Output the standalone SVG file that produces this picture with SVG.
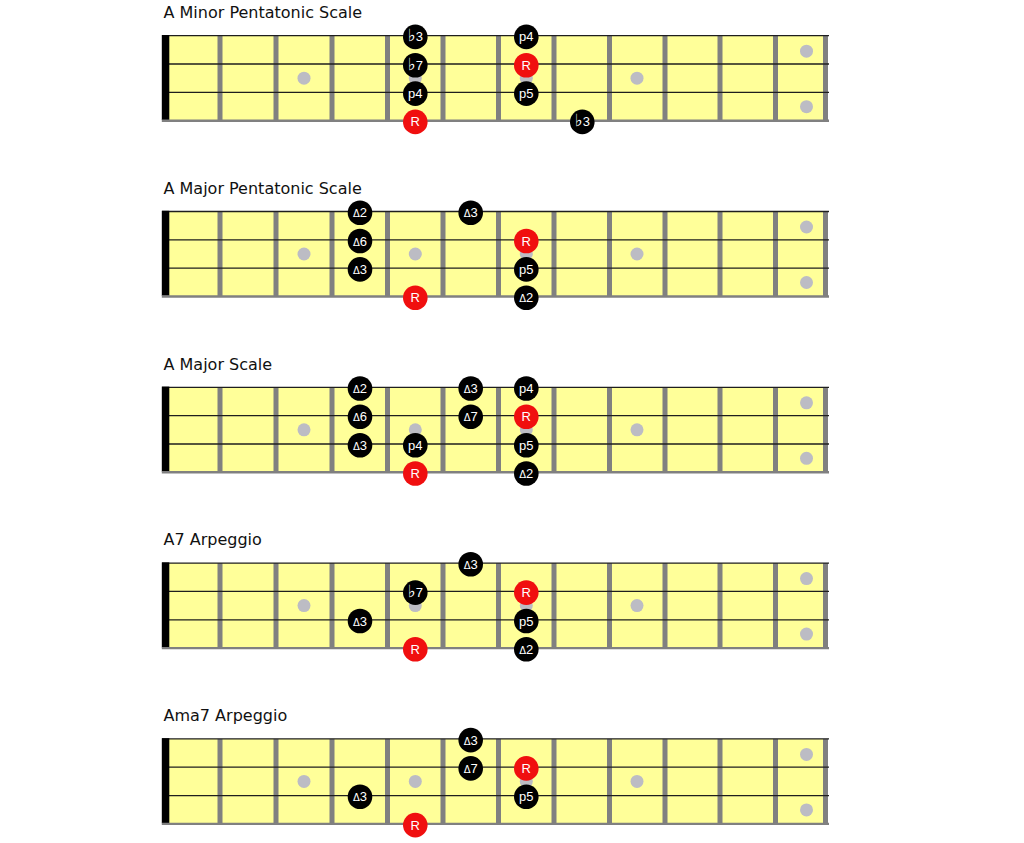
<svg xmlns="http://www.w3.org/2000/svg" xmlns:xlink="http://www.w3.org/1999/xlink" width="1024" height="843" viewBox="0 0 1024 843">
<style>
.title{font-family:"DejaVu Sans",Verdana,sans-serif;font-size:16px;fill:#111}
.fret{fill:#808080}
.str{stroke:#1e1e1e;stroke-width:1.3}
.low{stroke:#808080;stroke-width:2.4}
.dot{fill:#bcbcc4}
.n{fill:#000}
.r{fill:#f00f0f}
.t{font-family:"Liberation Sans",Arial,"DejaVu Sans",sans-serif;font-size:13px;fill:#fff;text-anchor:middle}
.d{font-size:10px;font-family:"DejaVu Sans",sans-serif}
.f{font-family:"DejaVu Sans",sans-serif;font-size:17px}
</style>
<defs>
<g id="board">
<rect x="169" y="0" width="659" height="85" fill="#ffff99"/>
<rect class="fret" x="217.5" y="0" width="5" height="85"/>
<rect class="fret" x="273.5" y="0" width="5" height="85"/>
<rect class="fret" x="329.5" y="0" width="5" height="85"/>
<rect class="fret" x="385" y="0" width="5" height="85"/>
<rect class="fret" x="440.5" y="0" width="5" height="85"/>
<rect class="fret" x="496" y="0" width="5" height="85"/>
<rect class="fret" x="551.5" y="0" width="5" height="85"/>
<rect class="fret" x="607" y="0" width="5" height="85"/>
<rect class="fret" x="662.5" y="0" width="5" height="85"/>
<rect class="fret" x="717.5" y="0" width="5" height="85"/>
<rect class="fret" x="773" y="0" width="5" height="85"/>
<rect class="fret" x="823" y="0" width="5" height="85"/>
<circle class="dot" cx="304" cy="42.5" r="6.5"/>
<circle class="dot" cx="415.3" cy="42.5" r="6.5"/>
<circle class="dot" cx="526.3" cy="42.5" r="6.5"/>
<circle class="dot" cx="637" cy="42.5" r="6.5"/>
<circle class="dot" cx="806.5" cy="15.5" r="6.5"/>
<circle class="dot" cx="806.5" cy="71" r="6.5"/>
<line class="str" x1="162" y1="0" x2="829" y2="0"/>
<line class="str" x1="162" y1="28.3" x2="829" y2="28.3"/>
<line class="str" x1="162" y1="56.7" x2="829" y2="56.7"/>
<rect x="161.8" y="-0.7" width="7.5" height="85" fill="#000"/>
<line class="low" x1="161.8" y1="85" x2="829" y2="85"/>
</g>
</defs>

<g id="boards">
<use xlink:href="#board" href="#board" transform="translate(0,35.7)"/>
<use xlink:href="#board" href="#board" transform="translate(0,211.5)"/>
<use xlink:href="#board" href="#board" transform="translate(0,387.3)"/>
<use xlink:href="#board" href="#board" transform="translate(0,563.1)"/>
<use xlink:href="#board" href="#board" transform="translate(0,738.9)"/>
</g>

<g id="titles">
<text class="title" x="163.5" y="18.3">A Minor Pentatonic Scale</text>
<text class="title" x="163.5" y="194">A Major Pentatonic Scale</text>
<text class="title" x="163.5" y="369.8">A Major Scale</text>
<text class="title" x="163.5" y="545">A7 Arpeggio</text>
<text class="title" x="163.5" y="721.2">Ama7 Arpeggio</text>
</g>

<g id="connectors"/>

<g id="minor-pentatonic">
<g id="m1-b3"><circle class="n" cx="415.3" cy="36.9" r="12.3"/><text class="t" x="415.3" y="41.4"><tspan class="f">♭</tspan>3</text></g>
<g id="m1-b7"><circle class="n" cx="415.3" cy="65.2" r="12.3"/><text class="t" x="415.3" y="69.7"><tspan class="f">♭</tspan>7</text></g>
<g id="m1-p4"><circle class="n" cx="415.3" cy="93.6" r="12.3"/><text class="t" x="415.3" y="98.1">p4</text></g>
<g id="m1-R"><circle class="r" cx="415.3" cy="121.9" r="12.3"/><text class="t" x="415.3" y="126.4">R</text></g>
<g id="m1-p4b"><circle class="n" cx="526.3" cy="36.9" r="12.3"/><text class="t" x="526.3" y="41.4">p4</text></g>
<g id="m1-R2"><circle class="r" cx="526.3" cy="65.2" r="12.3"/><text class="t" x="526.3" y="69.7">R</text></g>
<g id="m1-p5"><circle class="n" cx="526.3" cy="93.6" r="12.3"/><text class="t" x="526.3" y="98.1">p5</text></g>
<g id="m1-b3b"><circle class="n" cx="582.3" cy="121.9" r="12.3"/><text class="t" x="582.3" y="126.4"><tspan class="f">♭</tspan>3</text></g>
</g>

<g id="major-pentatonic">
<g id="m2-d2"><circle class="n" cx="360" cy="212.7" r="12.3"/><text class="t" x="360" y="217.2"><tspan class="d">Δ</tspan>2</text></g>
<g id="m2-d6"><circle class="n" cx="360" cy="241" r="12.3"/><text class="t" x="360" y="245.5"><tspan class="d">Δ</tspan>6</text></g>
<g id="m2-d3"><circle class="n" cx="360" cy="269.4" r="12.3"/><text class="t" x="360" y="273.9"><tspan class="d">Δ</tspan>3</text></g>
<g id="m2-R"><circle class="r" cx="415.3" cy="297.7" r="12.3"/><text class="t" x="415.3" y="302.2">R</text></g>
<g id="m2-d3b"><circle class="n" cx="470.7" cy="212.7" r="12.3"/><text class="t" x="470.7" y="217.2"><tspan class="d">Δ</tspan>3</text></g>
<g id="m2-R2"><circle class="r" cx="526.3" cy="241" r="12.3"/><text class="t" x="526.3" y="245.5">R</text></g>
<g id="m2-p5"><circle class="n" cx="526.3" cy="269.4" r="12.3"/><text class="t" x="526.3" y="273.9">p5</text></g>
<g id="m2-d2b"><circle class="n" cx="526.3" cy="297.7" r="12.3"/><text class="t" x="526.3" y="302.2"><tspan class="d">Δ</tspan>2</text></g>
</g>

<g id="major-scale">
<g id="m3-d2"><circle class="n" cx="360" cy="388.5" r="12.3"/><text class="t" x="360" y="393"><tspan class="d">Δ</tspan>2</text></g>
<g id="m3-d6"><circle class="n" cx="360" cy="416.8" r="12.3"/><text class="t" x="360" y="421.3"><tspan class="d">Δ</tspan>6</text></g>
<g id="m3-d3"><circle class="n" cx="360" cy="445.2" r="12.3"/><text class="t" x="360" y="449.7"><tspan class="d">Δ</tspan>3</text></g>
<g id="m3-p4"><circle class="n" cx="415.3" cy="445.2" r="12.3"/><text class="t" x="415.3" y="449.7">p4</text></g>
<g id="m3-R"><circle class="r" cx="415.3" cy="473.5" r="12.3"/><text class="t" x="415.3" y="478">R</text></g>
<g id="m3-d3b"><circle class="n" cx="470.7" cy="388.5" r="12.3"/><text class="t" x="470.7" y="393"><tspan class="d">Δ</tspan>3</text></g>
<g id="m3-d7"><circle class="n" cx="470.7" cy="416.8" r="12.3"/><text class="t" x="470.7" y="421.3"><tspan class="d">Δ</tspan>7</text></g>
<g id="m3-p4b"><circle class="n" cx="526.3" cy="388.5" r="12.3"/><text class="t" x="526.3" y="393">p4</text></g>
<g id="m3-R2"><circle class="r" cx="526.3" cy="416.8" r="12.3"/><text class="t" x="526.3" y="421.3">R</text></g>
<g id="m3-p5"><circle class="n" cx="526.3" cy="445.2" r="12.3"/><text class="t" x="526.3" y="449.7">p5</text></g>
<g id="m3-d2b"><circle class="n" cx="526.3" cy="473.5" r="12.3"/><text class="t" x="526.3" y="478"><tspan class="d">Δ</tspan>2</text></g>
</g>

<g id="a7-arpeggio">
<g id="m4-d3"><circle class="n" cx="360" cy="621" r="12.3"/><text class="t" x="360" y="625.5"><tspan class="d">Δ</tspan>3</text></g>
<g id="m4-b7"><circle class="n" cx="415.3" cy="592.6" r="12.3"/><text class="t" x="415.3" y="597.1"><tspan class="f">♭</tspan>7</text></g>
<g id="m4-R"><circle class="r" cx="415.3" cy="649.3" r="12.3"/><text class="t" x="415.3" y="653.8">R</text></g>
<g id="m4-d3b"><circle class="n" cx="470.7" cy="564.3" r="12.3"/><text class="t" x="470.7" y="568.8"><tspan class="d">Δ</tspan>3</text></g>
<g id="m4-R2"><circle class="r" cx="526.3" cy="592.6" r="12.3"/><text class="t" x="526.3" y="597.1">R</text></g>
<g id="m4-p5"><circle class="n" cx="526.3" cy="621" r="12.3"/><text class="t" x="526.3" y="625.5">p5</text></g>
<g id="m4-d2"><circle class="n" cx="526.3" cy="649.3" r="12.3"/><text class="t" x="526.3" y="653.8"><tspan class="d">Δ</tspan>2</text></g>
</g>

<g id="ama7-arpeggio">
<g id="m5-d3"><circle class="n" cx="360" cy="796.8" r="12.3"/><text class="t" x="360" y="801.3"><tspan class="d">Δ</tspan>3</text></g>
<g id="m5-R"><circle class="r" cx="415.3" cy="825.1" r="12.3"/><text class="t" x="415.3" y="829.6">R</text></g>
<g id="m5-d3b"><circle class="n" cx="470.7" cy="740.1" r="12.3"/><text class="t" x="470.7" y="744.6"><tspan class="d">Δ</tspan>3</text></g>
<g id="m5-d7"><circle class="n" cx="470.7" cy="768.4" r="12.3"/><text class="t" x="470.7" y="772.9"><tspan class="d">Δ</tspan>7</text></g>
<g id="m5-R2"><circle class="r" cx="526.3" cy="768.4" r="12.3"/><text class="t" x="526.3" y="772.9">R</text></g>
<g id="m5-p5"><circle class="n" cx="526.3" cy="796.8" r="12.3"/><text class="t" x="526.3" y="801.3">p5</text></g>
</g>
</svg>
